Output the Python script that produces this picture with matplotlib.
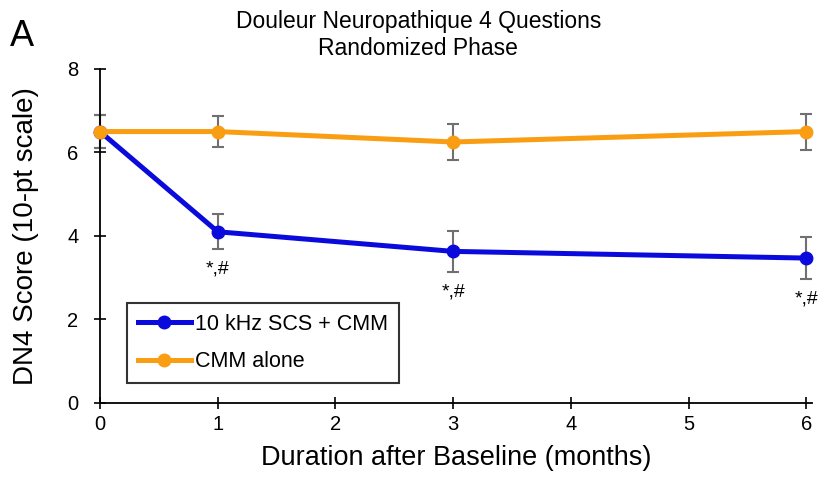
import matplotlib
matplotlib.use("Agg")
import matplotlib.pyplot as plt

months = [0, 1, 3, 6]
scs_vals = [6.50, 4.10, 3.63, 3.47]
scs_err = [0.40, 0.42, 0.50, 0.51]
cmm_vals = [6.50, 6.50, 6.25, 6.50]
cmm_err = [0.40, 0.37, 0.44, 0.43]
sig_months = [1, 3, 6]
sig_label = "*,#"
x_ticks = [0, 1, 2, 3, 4, 5, 6]
y_ticks = [0, 2, 4, 6, 8]

plt.rcParams['font.family'] = ['Liberation Sans', 'DejaVu Sans']

fig = plt.figure(figsize=(8.3, 4.82), dpi=100)
ax = fig.add_axes([0.1205, 0.164, 0.858, 0.693])

blue = '#0a0adc'
orange = '#f99d12'
errc = '#707070'

ax.errorbar(months, cmm_vals, yerr=cmm_err, fmt='none', ecolor=errc, elinewidth=1.5, capsize=4.5, capthick=1.5, zorder=2, clip_on=False)
ax.errorbar(months, scs_vals, yerr=scs_err, fmt='none', ecolor=errc, elinewidth=1.5, capsize=4.5, capthick=1.5, zorder=2, clip_on=False)
ax.plot(months, scs_vals, color=blue, lw=3.6, marker='o', ms=9, label='10 kHz SCS + CMM', zorder=3, clip_on=False)
ax.plot(months, cmm_vals, color=orange, lw=3.6, marker='o', ms=9, label='CMM alone', zorder=4, clip_on=False)

for m in sig_months:
    v = scs_vals[months.index(m)] - scs_err[months.index(m)]
    ax.annotate(sig_label, (m, v), xytext=(0, -8), textcoords='offset points',
                ha='center', va='top', fontsize=14, annotation_clip=False)

ax.set_xlim(0, 6.05)
ax.set_ylim(0, 8)
ax.set_xticks(x_ticks)
ax.set_yticks(y_ticks)
ax.tick_params(direction='inout', length=9, width=1.2, labelsize=14.5)
ax.tick_params(axis='x', pad=4)
ax.tick_params(axis='y', pad=11)
for s in ['top', 'right']:
    ax.spines[s].set_visible(False)
for s in ['left', 'bottom']:
    ax.spines[s].set_linewidth(1.3)

ax.set_xlabel('Duration after Baseline (months)', fontsize=19.5, labelpad=8)
ax.set_ylabel('DN4 Score (10-pt scale)', fontsize=20, labelpad=20)
fig.text(0.504, 0.927, 'Douleur Neuropathique 4 Questions\nRandomized Phase', fontsize=16.5,
         ha='center', va='center', linespacing=1.2)
fig.text(0.012, 0.905, 'A', fontsize=26)

leg = ax.legend(loc='lower left', bbox_to_anchor=(0.038, 0.06), fontsize=15.5, frameon=True,
                fancybox=False, edgecolor='black', handlelength=2.45, handletextpad=0.2,
                borderpad=0.5, labelspacing=0.75, borderaxespad=0)
leg.get_frame().set_linewidth(1.5)

fig.savefig('out.png', dpi=100)
